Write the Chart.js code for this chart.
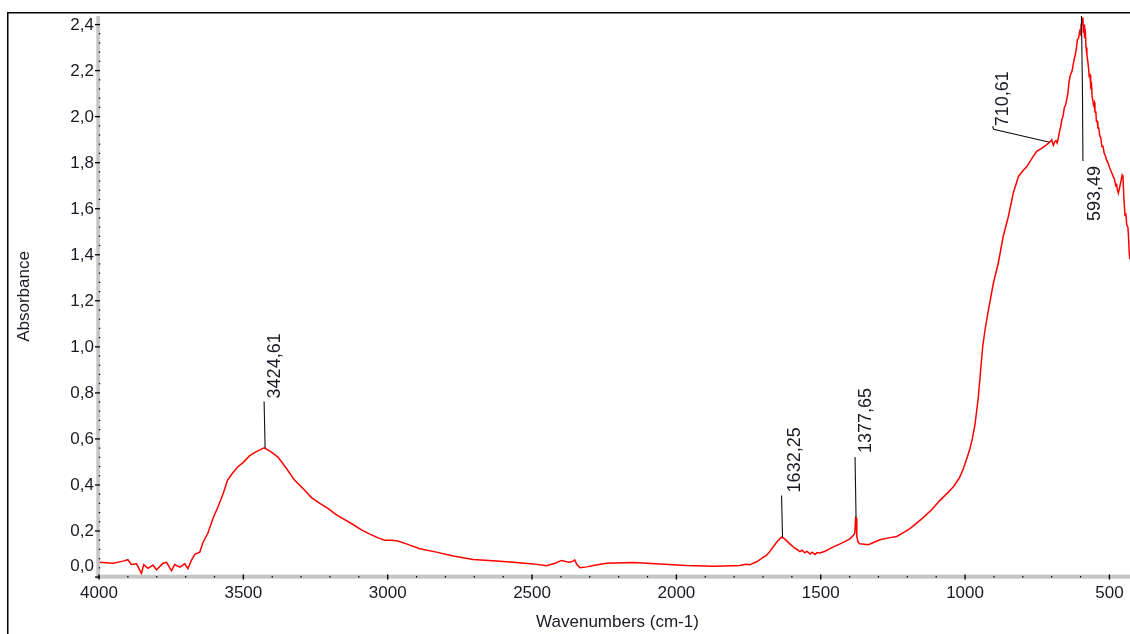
<!DOCTYPE html>
<html><head><meta charset="utf-8">
<script src="https://cdn.jsdelivr.net/npm/chart.js@4/dist/chart.umd.min.js"></script>
<style>html,body{margin:0;padding:0;background:#fff;overflow:hidden}#wrap{width:1130px;height:634px;position:relative}</style>
</head><body><div id="wrap"><canvas id="c" width="1130" height="634"></canvas></div>
<script>
const wavenumbers = [4000,3997,3951,3917,3900,3888,3870,3853,3845,3830,3813,3801,3778,3766,3749,3738,3720,3703,3692,3680,3668,3651,3640,3623,3605,3588,3570,3555,3541,3520,3501,3478,3455,3428,3405,3380,3350,3322,3290,3264,3235,3206,3180,3149,3120,3091,3060,3033,3010,2985,2965,2935,2889,2831,2773,2704,2623,2565,2496,2450,2420,2398,2380,2369,2356,2352,2345,2334,2310,2288,2242,2150,2057,1965,1872,1803,1780,1760,1745,1734,1722,1711,1699,1690,1680,1665,1650,1636,1632,1620,1607,1590,1580,1572,1565,1555,1548,1537,1530,1520,1512,1503,1485,1468,1450,1433,1415,1399,1387,1382,1379,1377,1375,1370,1364,1335,1295,1265,1237,1215,1191,1170,1145,1115,1087,1065,1041,1020,1006,995,983,975,966,960,954,946,939,931,919,902,885,868,850,833,815,800,786,770,752,735,717,710,700,697,694,690,685,681,677,672,668,665,661,656,652,648,644,640,636,632,629,625,622,618,614,611,607,603,600,598,596,594,592,590,588,586,583,581,578,576,573,570,567,565,562,560,557,555,552,550,547,545,542,540,537,533,530,526,522,518,514,510,505,500,495,490,487,483,478,475,472,469,465,460,456,453,450,446,443,440,436,434,431,429];
const absorbance = [0.063,0.064,0.060,0.069,0.075,0.054,0.057,0.016,0.054,0.038,0.052,0.031,0.060,0.064,0.027,0.054,0.043,0.057,0.036,0.072,0.098,0.108,0.150,0.190,0.255,0.304,0.362,0.420,0.445,0.478,0.497,0.527,0.545,0.561,0.545,0.521,0.470,0.420,0.380,0.345,0.320,0.297,0.272,0.249,0.228,0.205,0.185,0.170,0.160,0.160,0.156,0.144,0.123,0.108,0.091,0.076,0.069,0.064,0.057,0.049,0.060,0.072,0.066,0.064,0.070,0.074,0.055,0.040,0.044,0.050,0.060,0.063,0.057,0.050,0.047,0.049,0.050,0.055,0.053,0.060,0.066,0.075,0.086,0.092,0.105,0.130,0.155,0.173,0.172,0.160,0.144,0.125,0.118,0.110,0.116,0.105,0.112,0.100,0.108,0.098,0.106,0.104,0.112,0.123,0.134,0.144,0.155,0.166,0.181,0.190,0.258,0.255,0.175,0.150,0.144,0.140,0.162,0.170,0.176,0.192,0.210,0.232,0.258,0.293,0.333,0.360,0.391,0.430,0.470,0.510,0.558,0.600,0.660,0.720,0.782,0.899,1.000,1.073,1.160,1.276,1.363,1.479,1.566,1.668,1.740,1.765,1.783,1.815,1.849,1.862,1.878,1.885,1.899,1.885,1.875,1.890,1.895,1.885,1.907,1.940,1.960,1.987,2.000,2.040,2.050,2.074,2.100,2.150,2.177,2.190,2.200,2.230,2.248,2.270,2.300,2.335,2.340,2.370,2.360,2.400,2.430,2.410,2.430,2.364,2.400,2.340,2.360,2.300,2.270,2.250,2.220,2.175,2.180,2.130,2.140,2.090,2.090,2.050,2.060,2.020,2.020,1.980,1.980,1.950,1.950,1.914,1.910,1.870,1.870,1.840,1.830,1.812,1.800,1.780,1.765,1.750,1.740,1.730,1.700,1.705,1.680,1.668,1.690,1.720,1.745,1.735,1.650,1.570,1.580,1.530,1.520,1.479,1.400,1.380];
const xTickValues = [4000,3500,3000,2500,2000,1500,1000,500];
const yTickValues = [0,0.2,0.4,0.6,0.8,1.0,1.2,1.4,1.6,1.8,2.0,2.2,2.4];
const peakPositions = [3424.61,1632.25,1377.65,710.61,593.49];
const peakLabels = ['3424,61','1632,25','1377,65','710,61','593,49'];
const xAxisTitle = 'Wavenumbers (cm-1)';
const yAxisTitle = 'Absorbance';

const points = wavenumbers.map((w,i)=>({x:w,y:absorbance[i]}));
function valueAt(w){
  for(let i=0;i<wavenumbers.length-1;i++){
    const a=wavenumbers[i], b=wavenumbers[i+1];
    if(w<=a && w>=b){ const t=(a-w)/(a-b); return absorbance[i]+(absorbance[i+1]-absorbance[i])*t; }
  }
  return 0;
}
const FONT = '"Liberation Sans", Arial, sans-serif';
const TXT = '#1a1a26';

const decor = {
  id:'decor',
  afterDatasetsDraw(chart){
    const ctx=chart.ctx, xs=chart.scales.x, ys=chart.scales.y, ca=chart.chartArea;
    ctx.save();
    // frame
    ctx.fillStyle='#000';
    ctx.fillRect(7,12,1123,1.5);
    ctx.fillRect(7,12,1.5,622);
    // axis bands
    ctx.fillStyle='#c6c6c6';
    ctx.fillRect(96.3,ca.top,3.7,ca.bottom-ca.top+2);
    ctx.fillRect(96.3,ca.bottom-2.3,ca.right-96.3,4);
    ctx.fillStyle='#000';
    // x ticks
    for(let w=4000; w>=xs.min; w-=100){
      const px=xs.getPixelForValue(w);
      if(w%500===0) ctx.fillRect(px-0.7,ca.bottom-2.5,1.4,5);
      else ctx.fillRect(px-0.6,ca.bottom-1,1.2,1.5);
    }
    // y ticks
    for(let k=0;k<=60;k++){
      const v=k*0.04; if(v>ys.max) break;
      const py=ys.getPixelForValue(v);
      if(k%5===0) ctx.fillRect(95,py-0.6,5,1.3);
      else ctx.fillRect(98.8,py-0.6,1.4,1.2);
    }
    // tick labels
    ctx.fillStyle=TXT;
    ctx.font='17px '+FONT;
    ctx.textAlign='right'; ctx.textBaseline='middle';
    yTickValues.forEach(v=>{
      const py=ys.getPixelForValue(v)+(v===0?-11:0);
      ctx.fillText(v.toFixed(1).replace('.',','),94,py+0.5);
    });
    ctx.textAlign='center';
    xTickValues.forEach(v=>{
      ctx.fillText(String(v),xs.getPixelForValue(v),593);
    });
    // axis titles
    ctx.font='17px '+FONT;
    ctx.fillText(xAxisTitle,(ca.left+ca.right)/2+3,622);
    ctx.save();
    ctx.translate(24,(ca.top+ca.bottom)/2);
    ctx.rotate(-Math.PI/2);
    ctx.fillText(yAxisTitle,0,0);
    ctx.restore();
    // peak annotations
    const layout=[
      {len:47, dx:10, gap:3},
      {len:42, dx:12, gap:3},
      {len:61, dx:10, gap:4},
      {kind:'side'},
      {kind:'below'}
    ];
    ctx.strokeStyle='#111'; ctx.lineWidth=1.1;
    ctx.font='18px '+FONT;
    ctx.textAlign='left'; ctx.textBaseline='middle';
    peakPositions.forEach((w,i)=>{
      const px=xs.getPixelForValue(w);
      const py=ys.getPixelForValue(valueAt(w));
      const L=layout[i];
      let tx,ty;
      if(L.kind==='side'){
        ctx.beginPath();
        ctx.moveTo(px+1,py-1);
        ctx.lineTo(px-55,py-14);
        ctx.lineTo(px-56,py-17);
        ctx.stroke();
        tx=px-46; ty=py-17;
      } else if(L.kind==='below'){
        ctx.beginPath();
        ctx.moveTo(px-1,ca.top);
        ctx.lineTo(px,ca.top+72);
        ctx.lineTo(px+0.5,ca.top+145);
        ctx.stroke();
        tx=px+13; ty=ca.top+205;
      } else {
        ctx.beginPath();
        ctx.moveTo(px,py);
        ctx.lineTo(px-0.5,py-L.len/2);
        ctx.lineTo(px-1,py-L.len);
        ctx.stroke();
        tx=px+L.dx; ty=py-L.len-L.gap;
      }
      ctx.save();
      ctx.translate(tx,ty);
      ctx.rotate(-Math.PI/2);
      ctx.fillText(peakLabels[i],0,0);
      ctx.restore();
    });
    ctx.restore();
  }
};

new Chart(document.getElementById('c'),{
  type:'line',
  data:{datasets:[{data:points,borderColor:'#ff0000',borderWidth:1.5,pointRadius:0,tension:0,fill:false}]},
  options:{
    responsive:false, devicePixelRatio:1, animation:false,
    layout:{padding:{top:16,left:0,right:0,bottom:0}},
    plugins:{legend:{display:false},tooltip:{enabled:false}},
    scales:{
      x:{type:'linear',reverse:true,min:428.7,max:4000,
         ticks:{display:false},grid:{display:false},border:{display:false},
         afterFit(s){s.height=57;}},
      y:{type:'linear',min:0,max:2.437,
         ticks:{display:false},grid:{display:false},border:{display:false},
         afterFit(s){s.width=99;}}
    }
  },
  plugins:[decor]
});
</script></body></html>
